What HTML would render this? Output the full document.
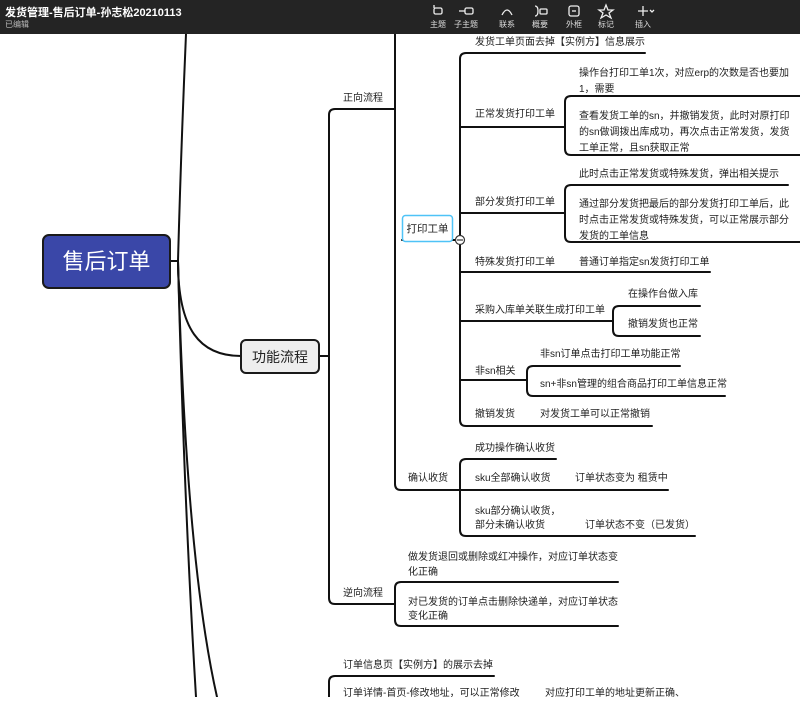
<!DOCTYPE html>
<html><head><meta charset="utf-8"><style>
html,body{margin:0;padding:0;background:#fff;}
body{width:800px;height:697px;overflow:hidden;position:relative;font-family:"Liberation Sans","Noto Sans CJK SC",sans-serif;}
svg text{font-family:"Liberation Sans","Noto Sans CJK SC",sans-serif;}
</style></head><body>
<svg width="800" height="697" viewBox="0 0 800 697" xmlns="http://www.w3.org/2000/svg">
<g fill="none" stroke="#111" stroke-width="2" stroke-linecap="round" stroke-linejoin="round">
<path d="M170 261 H178"/>
<path d="M178 261 Q181 150 186 34"/>
<path d="M178 261 C178 330 200 356 241 356"/>
<path d="M178 261 Q184 500 196 697"/>
<path d="M178 261 Q186 560 217 697"/>
<path d="M319 356 H329"/>
<path d="M395 109 H335 Q329 109 329 115 V598 Q329 604 335 604 H395"/>
<path d="M329 697 V682 Q329 676 335 676 H494"/>
<path d="M395 34 V484 Q395 490 401 490 H460"/>
<path d="M402 240 H460"/>
<path d="M645 53 H466 Q460 53 460 59 V420 Q460 426 466 426 H652"/>
<path d="M460 127 H565"/>
<path d="M800 96 H571 Q565 96 565 102 V149 Q565 155 571 155 H800"/>
<path d="M460 213 H565"/>
<path d="M788 185 H571 Q565 185 565 191 V236 Q565 242 571 242 H800"/>
<path d="M460 272 H710"/>
<path d="M460 321 H613"/>
<path d="M700 306 H619 Q613 306 613 312 V330 Q613 336 619 336 H700"/>
<path d="M460 380 H527"/>
<path d="M680 366 H533 Q527 366 527 372 V390 Q527 396 533 396 H725"/>
<path d="M556 459 H466 Q460 459 460 465 V530 Q460 536 466 536 H695"/>
<path d="M460 490 H668"/>
<path d="M618 582 H401 Q395 582 395 588 V620 Q395 626 401 626 H618"/>
</g>
<circle cx="460" cy="240" r="4.5" fill="#fff" stroke="#333" stroke-width="1.2"/>
<line x1="457" y1="240" x2="463" y2="240" stroke="#333" stroke-width="1.2"/>
<rect x="43" y="235" width="127" height="53" rx="6" fill="#3a47a8" stroke="#1a1a1a" stroke-width="2"/>
<text x="106.5" y="269" font-size="22" fill="#fff" text-anchor="middle">售后订单</text>
<rect x="241" y="340" width="78" height="33" rx="5" fill="#eeeeee" stroke="#1a1a1a" stroke-width="2"/>
<text x="280" y="362" font-size="14" fill="#222" text-anchor="middle">功能流程</text>
<rect x="402.5" y="215.5" width="50" height="26" rx="3" fill="#fff" stroke="#4fc3f7" stroke-width="1.5"/>
<text x="427.5" y="232" font-size="10.5" fill="#222" text-anchor="middle">打印工单</text>
<g font-size="10" fill="#222">
<text x="343" y="101">正向流程</text>
<text x="475" y="45">发货工单页面去掉【实例方】信息展示</text>
<text x="475" y="117">正常发货打印工单</text>
<text x="579" y="76">操作台打印工单1次，对应erp的次数是否也要加</text>
<text x="579" y="92">1，需要</text>
<text x="579" y="119">查看发货工单的sn，并撤销发货，此时对原打印</text>
<text x="579" y="135">的sn做调拨出库成功，再次点击正常发货，发货</text>
<text x="579" y="151">工单正常，且sn获取正常</text>
<text x="475" y="205">部分发货打印工单</text>
<text x="579" y="177">此时点击正常发货或特殊发货，弹出相关提示</text>
<text x="579" y="207">通过部分发货把最后的部分发货打印工单后，此</text>
<text x="579" y="223">时点击正常发货或特殊发货，可以正常展示部分</text>
<text x="579" y="239">发货的工单信息</text>
<text x="475" y="265">特殊发货打印工单</text>
<text x="579" y="265">普通订单指定sn发货打印工单</text>
<text x="475" y="313">采购入库单关联生成打印工单</text>
<text x="628" y="297">在操作台做入库</text>
<text x="628" y="327">撤销发货也正常</text>
<text x="475" y="374">非sn相关</text>
<text x="540" y="357">非sn订单点击打印工单功能正常</text>
<text x="540" y="387">sn+非sn管理的组合商品打印工单信息正常</text>
<text x="475" y="417">撤销发货</text>
<text x="540" y="417">对发货工单可以正常撤销</text>
<text x="408" y="481">确认收货</text>
<text x="475" y="451">成功操作确认收货</text>
<text x="475" y="481">sku全部确认收货</text>
<text x="575" y="481">订单状态变为 租赁中</text>
<text x="475" y="514">sku部分确认收货，</text>
<text x="475" y="528">部分未确认收货</text>
<text x="585" y="528">订单状态不变（已发货）</text>
<text x="343" y="596">逆向流程</text>
<text x="408" y="560">做发货退回或删除或红冲操作，对应订单状态变</text>
<text x="408" y="575">化正确</text>
<text x="408" y="605">对已发货的订单点击删除快递单，对应订单状态</text>
<text x="408" y="619">变化正确</text>
<text x="343" y="668">订单信息页【实例方】的展示去掉</text>
<text x="343" y="696">订单详情-首页-修改地址，可以正常修改</text>
<text x="545" y="696">对应打印工单的地址更新正确、</text>
</g>
<rect x="0" y="0" width="800" height="34" fill="#242424"/>
<text x="5" y="16" font-size="11" font-weight="bold" fill="#fff">发货管理-售后订单-孙志松20210113</text>
<text x="5" y="27" font-size="8" fill="#bbb">已编辑</text>
<g stroke="#eee" stroke-width="1.3" fill="none">
<rect x="434" y="8" width="8" height="6" rx="1.5"/><path d="M434 5 V8"/>
<rect x="465" y="8" width="8" height="6" rx="1.5"/><path d="M459 11 H465"/>
<path d="M502 15 Q507 5 512 15"/>
<path d="M535 6 Q538 6 538 11 Q538 16 535 16"/><rect x="540" y="9" width="7" height="5" rx="1"/>
<rect x="569" y="6" width="10" height="10" rx="2"/><path d="M572 11 H576"/>
<path d="M606 5 L608 10 L613 10 L609 13 L611 18 L606 15 L601 18 L603 13 L599 10 L604 10 Z"/>
<path d="M638 11 H648 M643 6 V16"/><path d="M650 10 L652 12 L654 10"/>
</g>
<g font-size="8" fill="#ddd" text-anchor="middle">
<text x="438" y="27">主题</text>
<text x="466" y="27">子主题</text>
<text x="507" y="27">联系</text>
<text x="540" y="27">概要</text>
<text x="574" y="27">外框</text>
<text x="606" y="27">标记</text>
<text x="643" y="27">插入</text>
</g>
</svg>
</body></html>
